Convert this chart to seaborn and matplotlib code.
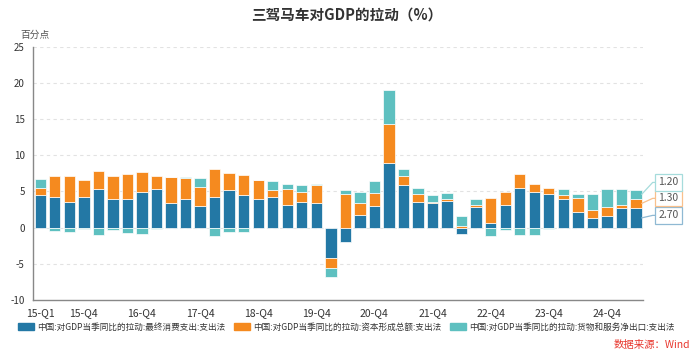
import numpy as np
import pandas as pd
import seaborn as sns
from matplotlib import pyplot as plt
from matplotlib.patches import Patch

quarters = [f"{yy}-Q{q}" for yy in range(15, 26) for q in range(1, 5)][:42]

# contribution to GDP yoy growth, percentage points
consumption = [4.5, 4.2, 3.5, 4.3, 5.4, 3.9, 3.9, 4.95, 5.3, 3.45, 3.95, 3.05,
               4.3, 5.2, 4.45, 3.95, 4.2, 3.2, 3.5, 3.45, -4.25, -2.0, 1.8, 3.0,
               9.0, 5.85, 3.5, 3.4, 3.75, -0.9, 2.8, 0.7, 3.15, 5.45, 4.9, 4.65,
               3.9, 2.2, 1.3, 1.55, 2.75, 2.7]
capital = [1.0, 2.95, 3.7, 2.35, 2.45, 3.2, 3.5, 2.75, 1.9, 3.6, 2.85, 2.55,
           3.75, 2.4, 2.85, 2.65, 0.95, 2.15, 1.4, 2.45, -1.35, 4.65, 1.65, 1.85,
           5.25, 1.3, 1.1, 0.1, 0.25, 0.25, 0.35, 3.35, 1.8, 2.0, 1.15, 0.8,
           0.65, 1.9, 1.2, 1.3, 0.45, 1.3]
net_exports = [1.25, -0.5, -0.65, -0.25, -1.05, -0.35, -0.75, -0.9, -0.25, 0.0, 0.15, 1.2,
               -1.15, -0.65, -0.6, 0.0, 1.25, 0.75, 1.05, 0.1, -1.25, 0.6, 1.45, 1.65,
               4.7, 0.95, 0.9, 1.0, 0.8, 1.35, 0.85, -1.15, -0.3, -0.95, -1.05, -0.2,
               0.75, 0.55, 2.1, 2.5, 2.1, 1.2]

series_names = [
    "中国:对GDP当季同比的拉动:最终消费支出:支出法",
    "中国:对GDP当季同比的拉动:资本形成总额:支出法",
    "中国:对GDP当季同比的拉动:货物和服务净出口:支出法",
]
series_colors = ["#2378a5", "#f58a1f", "#5ec0c0"]
label_edge_colors = ["#8fb9d3", "#f9c08c", "#a6dcdc"]

tick_idx = [0] + list(range(3, 40, 4)) + [41]
tick_labels = [quarters[i] for i in tick_idx[:-1]] + [""]

sns.set_style("white")
plt.rcParams["font.family"] = ["Noto Sans CJK SC", "DejaVu Sans"]
plt.rcParams["axes.unicode_minus"] = False

fig = plt.figure(figsize=(6.93, 3.56), dpi=100)
ax = fig.add_axes([0.0476, 0.157, 0.8806, 0.712])

df = pd.DataFrame({"quarter": quarters, "c": consumption, "k": capital, "nx": net_exports})

pos_bottom = np.zeros(len(df))
neg_bottom = np.zeros(len(df))
for col, color in zip(["c", "k", "nx"], series_colors):
    vals = df[col].to_numpy()
    bottom = np.where(vals >= 0, pos_bottom, neg_bottom)
    sns.barplot(
        x=df["quarter"],
        y=vals,
        order=quarters,
        bottom=bottom,
        color=color,
        saturation=1,
        width=0.78,
        edgecolor=(1, 1, 1, 0.7),
        linewidth=0.7,
        ax=ax,
        zorder=3,
    )
    pos_bottom = pos_bottom + np.clip(vals, 0, None)
    neg_bottom = neg_bottom + np.clip(vals, None, 0)

ax.set_xlim(-0.5, 41.5)
ax.set_ylim(-10, 25)
ax.set_yticks(range(-10, 26, 5))
ax.set_xticks(tick_idx)
ax.set_xticklabels(tick_labels)
ax.set_xlabel("")
ax.set_ylabel("")
for y in range(-5, 26, 5):
    ax.axhline(y, color="#e2e2e2", lw=0.8, ls=(0, (3, 3)), zorder=0)
for side in ["top", "right"]:
    ax.spines[side].set_visible(False)
for side in ["left", "bottom"]:
    ax.spines[side].set_color("#888888")
    ax.spines[side].set_linewidth(1)
ax.tick_params(axis="both", length=4, width=1, color="#888888", labelsize=7,
               labelcolor="#333333", pad=2)
ax.tick_params(axis="x", labelsize=7.5)

# value labels for the latest quarter
last = len(quarters) - 1
seg_vals = [consumption[last], capital[last], net_exports[last]]
seg_mid = []
acc = 0
for v in seg_vals:
    seg_mid.append(acc + v / 2)
    acc += v
box_y = [1.7, 4.05, 6.25]
for v, mid, by, col in zip(seg_vals, seg_mid, box_y, label_edge_colors):
    ax.plot([last + 0.39, last + 1.15, last + 1.45], [mid, by, by], color=col,
            lw=0.9, clip_on=False, zorder=4)
    ax.text(last + 1.55, by, f"{v:.2f}", ha="left", va="center", fontsize=7.5,
            color="#555555", clip_on=False, zorder=5,
            bbox=dict(boxstyle="square,pad=0.3", fc="white", ec=col, lw=0.9))

fig.text(0.5, 0.958, "三驾马车对GDP的拉动（%）", ha="center", va="center",
         fontsize=10.5, fontweight="bold", color="#333333")
fig.text(0.030, 0.902, "百分点", ha="left", va="center", fontsize=7, color="#555555")

handles = [Patch(facecolor=c, edgecolor=c) for c in series_colors]
fig.legend(handles, series_names, loc="center", bbox_to_anchor=(0.5, 0.081), ncol=3,
           frameon=False, fontsize=6.2, handlelength=1.8, handleheight=0.9,
           handletextpad=0.4, columnspacing=1.0, labelcolor="#333333")
fig.text(0.996, 0.031, "数据来源：Wind", ha="right", va="center", fontsize=7.5,
         color="#e8382f")

fig.savefig("out.png", dpi=100)
